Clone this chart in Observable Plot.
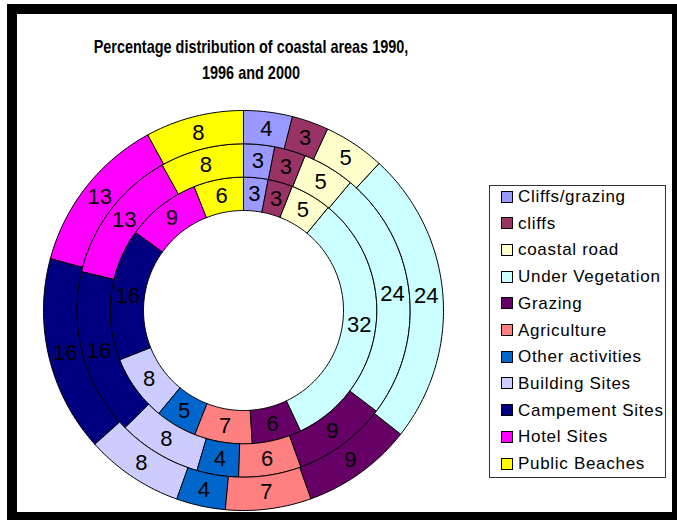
<!DOCTYPE html>
<html>
<head>
<meta charset="utf-8">
<script src="https://cdn.jsdelivr.net/npm/d3@7"></script>
<script src="https://cdn.jsdelivr.net/npm/@observablehq/plot@0.6"></script>
<style>
  html, body { margin: 0; padding: 0; background: #fff; }
  #wrap { position: relative; width: 677px; height: 520px; overflow: hidden; background: #fff; }
  #chart { position: absolute; left: 0; top: 0; }
  #frame { position: absolute; left: 7px; top: 4px; width: 670px; height: 516px; box-sizing: border-box;
           border-style: solid; border-color: #000; border-width: 10px 5px 8px 10px; pointer-events: none; }
  #title { position: absolute; left: 251px; top: 34px; white-space: nowrap; text-align: center;
           transform: scaleX(0.76) translateX(-50%); transform-origin: 0 0;
           font-family: Arial, "Liberation Sans", sans-serif; font-weight: bold;
           font-size: 19px; line-height: 26px; color: #000; }
  #legend { position: absolute; left: 489px; top: 185px; width: 177px; height: 293px; box-sizing: border-box;
            border: 1px solid #333; background: #fff; font-family: Arial, "Liberation Sans", sans-serif; font-size: 17px; color: #000; }
  .item { position: absolute; left: 11px; height: 20px; line-height: 20px; white-space: nowrap; letter-spacing: 0.7px; }
  .sw { display: inline-block; width: 10px; height: 10px; border: 1px solid #000; vertical-align: middle; margin-right: 5px; position: relative; top: -1px; }
</style>
</head>
<body>
<div id="wrap">
  <div id="chart"></div>
  <div id="title">Percentage distribution of coastal areas 1990,<br>1996 and 2000</div>
  <div id="legend"></div>
  <div id="frame"></div>
</div>
<script>
// ---- data ----
const categories = ["Cliffs/grazing", "cliffs", "coastal road", "Under Vegetation", "Grazing", "Agriculture",
  "Other activities", "Building Sites", "Campement Sites", "Hotel Sites", "Public Beaches"];
const years = ["1990", "1996", "2000"]; // inner -> outer ring
const values1990 = [3, 3, 5, 32, 6, 7, 5, 8, 16, 9, 6];
const values1996 = [3, 3, 5, 24, 9, 6, 4, 8, 16, 13, 8];
const values2000 = [4, 3, 5, 24, 9, 7, 4, 8, 16, 13, 8];
const palette = ["#9999FF", "#993366", "#FFFFCC", "#CCFFFF", "#660066", "#FF8080",
  "#0066CC", "#CCCCFF", "#000080", "#FF00FF", "#FFFF00"];

const series = [values1990, values1996, values2000];

// ---- geometry (ring radii in data units, outer radius = 1) ----
const hole = 0.5;
const ringW = (1 - hole) / series.length;
const polys = [];
const labels = [];
series.forEach((vals, ri) => {
  const total = d3.sum(vals);
  const r0 = hole + ri * ringW, r1 = r0 + ringW;
  let cum = 0;
  vals.forEach((v, ci) => {
    const a0 = cum / total * 2 * Math.PI;
    cum += v;
    const a1 = cum / total * 2 * Math.PI;
    const key = years[ri] + "-" + ci;
    const n = Math.max(2, Math.ceil((a1 - a0) / (Math.PI / 180)));
    for (let k = 0; k <= n; k++) {
      const a = a0 + (a1 - a0) * k / n;
      polys.push({key, cat: categories[ci], x: r1 * Math.sin(a), y: r1 * Math.cos(a)});
    }
    for (let k = n; k >= 0; k--) {
      const a = a0 + (a1 - a0) * k / n;
      polys.push({key, cat: categories[ci], x: r0 * Math.sin(a), y: r0 * Math.cos(a)});
    }
    const am = (a0 + a1) / 2, rm = (r0 + r1) / 2;
    labels.push({x: rm * Math.sin(am), y: rm * Math.cos(am), text: String(v)});
  });
});

const chart = Plot.plot({
  width: 677,
  height: 520,
  margin: 0,
  x: {domain: [-1.215, 2.17], axis: null},
  y: {domain: [-1.05, 1.55], axis: null},
  color: {domain: categories, range: palette},
  style: {background: "transparent"},
  marks: [
    Plot.line(polys, {x: "x", y: "y", z: "key", fill: "cat", stroke: "#000", strokeWidth: 1, curve: "linear-closed"}),
    Plot.text(labels, {x: "x", y: "y", text: "text", fill: "#000", fontSize: 22,
      fontFamily: "Arial, 'Liberation Sans', sans-serif"})
  ]
});
document.getElementById("chart").appendChild(chart);

// ---- legend ----
const legend = document.getElementById("legend");
categories.forEach((c, i) => {
  const it = document.createElement("div");
  it.className = "item";
  it.style.top = (1 + i * 26.7) + "px";
  const sw = document.createElement("span");
  sw.className = "sw";
  sw.style.background = palette[i];
  it.appendChild(sw);
  it.appendChild(document.createTextNode(c));
  legend.appendChild(it);
});
</script>
</body>
</html>
